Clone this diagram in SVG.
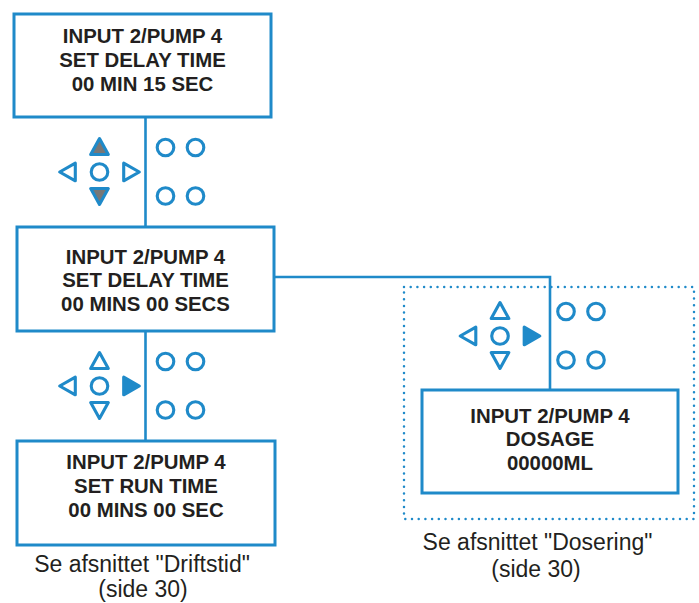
<svg xmlns="http://www.w3.org/2000/svg" width="699" height="603" viewBox="0 0 699 603">
<style>
.box{fill:#fff;stroke:#1f8ac9;stroke-width:3}
.con{fill:none;stroke:#1f8ac9;stroke-width:2.6}
.dot{fill:none;stroke:#1f8ac9;stroke-width:2.5;stroke-dasharray:0 6.7;stroke-linecap:round}
.k{fill:none;stroke:#1f8ac9;stroke-width:3.1;stroke-linejoin:round}
.g{fill:#777;stroke:#1f8ac9;stroke-width:3.1;stroke-linejoin:round}
.b{fill:#1f8ac9;stroke:#1f8ac9;stroke-width:3.1;stroke-linejoin:round}
.t{font-family:"Liberation Sans",Arial,sans-serif;font-weight:bold;font-size:20.4px;fill:#231f20;text-anchor:middle}
.n{font-family:"Liberation Sans",Arial,sans-serif;font-size:23px;fill:#231f20;text-anchor:middle}
</style>
<defs>
<path id="tu" d="M0,-33.5 L8.8,-17.5 L-8.8,-17.5 Z"/>
<path id="td" d="M0,32.5 L8.8,16.5 L-8.8,16.5 Z"/>
<path id="tl" d="M-39.8,0 L-24.2,-8.8 L-24.2,8.8 Z"/>
<path id="tr" d="M39.8,0 L24.2,-8.8 L24.2,8.8 Z"/>
<g id="circles" class="k">
<circle cx="0" cy="0" r="8.3"/>
<circle cx="66" cy="-24.5" r="8.3"/>
<circle cx="96" cy="-24.5" r="8.3"/>
<circle cx="66" cy="24" r="8.3"/>
<circle cx="96" cy="24" r="8.3"/>
</g>
</defs>
<g id="connectors">
<line class="con" x1="145.5" y1="117" x2="145.5" y2="227"/>
<line class="con" x1="145.5" y1="331" x2="145.5" y2="441"/>
<polyline class="con" points="274,277 550,277 550,390"/>
</g>
<rect id="dosing-area" class="dot" x="404" y="287" width="290" height="232"/>
<g id="keypad1" transform="translate(99.5,172)">
<use href="#circles"/>
<use href="#tu" class="g"/>
<use href="#td" class="g"/>
<use href="#tl" class="k"/>
<use href="#tr" class="k"/>
</g>
<g id="keypad2" transform="translate(99.5,386)">
<use href="#circles"/>
<use href="#tu" class="k"/>
<use href="#td" class="k"/>
<use href="#tl" class="k"/>
<use href="#tr" class="b"/>
</g>
<g id="keypad3" transform="translate(500,336)">
<use href="#circles"/>
<use href="#tu" class="k"/>
<use href="#td" class="k"/>
<use href="#tl" class="k"/>
<use href="#tr" class="b"/>
</g>
<g id="node1">
<rect class="box" x="14" y="14" width="257" height="103"/>
<text class="t" x="142.5" y="42.5">INPUT 2/PUMP 4</text>
<text class="t" x="142.5" y="67">SET DELAY TIME</text>
<text class="t" x="142.5" y="91">00 MIN 15 SEC</text>
</g>
<g id="node2">
<rect class="box" x="17" y="227" width="257" height="104"/>
<text class="t" x="145.5" y="263.5">INPUT 2/PUMP 4</text>
<text class="t" x="145.5" y="287">SET DELAY TIME</text>
<text class="t" x="145.5" y="311">00 MINS 00 SECS</text>
</g>
<g id="node3">
<rect class="box" x="422" y="390" width="256" height="103"/>
<text class="t" x="550" y="422.5">INPUT 2/PUMP 4</text>
<text class="t" x="550" y="446">DOSAGE</text>
<text class="t" x="550" y="470">00000ML</text>
</g>
<g id="node4">
<rect class="box" x="17" y="441" width="258" height="104"/>
<text class="t" x="146" y="469">INPUT 2/PUMP 4</text>
<text class="t" x="146" y="493">SET RUN TIME</text>
<text class="t" x="146" y="517">00 MINS 00 SEC</text>
</g>
<g id="label-left">
<text class="n" x="142" y="572">Se afsnittet "Driftstid"</text>
<text class="n" x="143" y="596.5">(side 30)</text>
</g>
<g id="label-right">
<text class="n" x="537.5" y="550">Se afsnittet "Dosering"</text>
<text class="n" x="536" y="576.5">(side 30)</text>
</g>
</svg>
